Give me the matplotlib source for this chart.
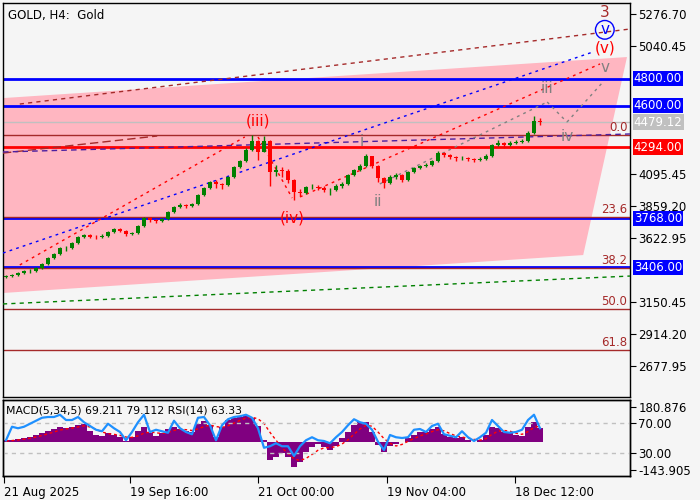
import matplotlib
matplotlib.use('Agg')
import matplotlib.pyplot as plt
import matplotlib.transforms as mtrans
import numpy as np

plt.rcParams['font.family'] = ['DejaVu Sans']

# ---- data (one bar ~ one trading day of H4 candles) ----
first_open = 3335
closes = [3342, 3350, 3367, 3376, 3381, 3401, 3431, 3475, 3505, 3549,
          3549, 3586, 3630, 3645, 3634, 3630, 3638, 3667, 3690, 3675,
          3652, 3660, 3711, 3770, 3756, 3745, 3763, 3815, 3852, 3867,
          3859, 3874, 3940, 3992, 4036, 4022, 4014, 4073, 4147, 4191,
          4273, 4340, 4260, 4340, 4110, 4125, 4118, 4051, 3965, 3955,
          4000, 4000, 3992, 3977, 3977, 4007, 4022, 4088, 4125, 4155,
          4228, 4155, 4066, 4029, 4073, 4088, 4051, 4110, 4140, 4155,
          4162, 4191, 4250, 4236, 4221, 4210, 4213, 4206, 4199, 4206,
          4228, 4309, 4324, 4309, 4324, 4332, 4339, 4398, 4487, 4479]
highs = [3352, 3360, 3375, 3386, 3392, 3408, 3440, 3482, 3515, 3556,
         3565, 3594, 3640, 3655, 3652, 3645, 3650, 3675, 3698, 3700,
         3682, 3670, 3720, 3780, 3778, 3765, 3772, 3825, 3862, 3880,
         3875, 3885, 3950, 4000, 4045, 4050, 4030, 4082, 4155, 4200,
         4285, 4381, 4350, 4378, 4350, 4165, 4150, 4130, 4060, 3985,
         4010, 4020, 4015, 4005, 3995, 4018, 4035, 4098, 4135, 4168,
         4245, 4232, 4165, 4075, 4085, 4105, 4095, 4120, 4150, 4165,
         4175, 4200, 4262, 4258, 4245, 4232, 4225, 4222, 4215, 4218,
         4240, 4318, 4345, 4332, 4336, 4345, 4352, 4410, 4525, 4510]
lows = [3325, 3335, 3345, 3358, 3368, 3374, 3395, 3425, 3468, 3498,
        3530, 3540, 3580, 3622, 3620, 3615, 3622, 3632, 3660, 3665,
        3640, 3642, 3655, 3705, 3740, 3730, 3738, 3758, 3808, 3845,
        3845, 3850, 3868, 3932, 3985, 3995, 3985, 4005, 4065, 4140,
        4185, 4265, 4200, 4255, 4010, 4080, 4075, 4030, 3905, 3930,
        3945, 3985, 3975, 3960, 3940, 3968, 3995, 4015, 4080, 4115,
        4148, 4140, 4040, 3995, 4020, 4060, 4035, 4045, 4100, 4130,
        4145, 4155, 4185, 4222, 4205, 4195, 4198, 4192, 4185, 4190,
        4200, 4222, 4300, 4290, 4300, 4315, 4322, 4332, 4390, 4460]

macd = [10, 10, 15, 21, 26, 36, 46, 57, 67, 77,
        72, 77, 88, 93, 57, 36, 31, 46, 36, 26,
        5, 26, 57, 77, 46, 31, 46, 67, 77, 67,
        57, 52, 93, 108, 88, 26, 77, 113, 124, 129,
        134, 124, 82, 10, -93, -77, -57, -77, -129, -103,
        -52, -26, -10, -26, -41, -21, 21, 52, 88, 103,
        103, 52, -15, -52, -21, -10, 2, 21, 36, 52,
        52, 67, 77, 41, 26, 21, 26, 10, 2, 10,
        36, 77, 72, 52, 46, 36, 31, 77, 103, 72]
signal = [5, 8, 11, 15, 20, 26, 34, 43, 52, 62,
          68, 72, 78, 84, 78, 66, 52, 44, 40, 35,
          26, 24, 32, 46, 52, 48, 44, 50, 60, 66,
          64, 60, 68, 80, 88, 80, 76, 84, 98, 112,
          124, 128, 120, 96, 50, 10, -30, -58, -86, -95,
          -84, -64, -42, -30, -28, -24, -10, 12, 40, 68,
          86, 82, 52, 18, -6, -20, -12, 4, 18, 32,
          42, 54, 64, 58, 44, 32, 26, 20, 14, 10,
          18, 40, 56, 60, 56, 46, 40, 54, 76, 82]
rsi = [47, 65, 63, 65, 69, 73, 77, 78, 78, 81,
       74, 74, 78, 71, 66, 61, 59, 69, 63, 58,
       47, 58, 71, 81, 58, 61, 59, 57, 73, 63,
       58, 55, 77, 78, 67, 47, 67, 75, 78, 79,
       81, 77, 63, 37, 39, 43, 39, 39, 26, 39,
       47, 51, 47, 46, 43, 51, 58, 67, 75, 71,
       69, 61, 45, 34, 54, 51, 50, 51, 61, 62,
       58, 66, 69, 55, 53, 51, 59, 51, 46, 51,
       57, 74, 66, 58, 57, 58, 61, 74, 81, 63]

date_labels = ['21 Aug 2025', '19 Sep 16:00', '21 Oct 00:00', '19 Nov 04:00', '18 Dec 12:00']
date_ticks = [-0.4, 20.7, 42, 63.5, 84.8]

# scale labels that are not hidden behind the coloured price boxes
price_ticks = [5276.70, 5040.45, 4095.45, 3859.20, 3622.95,
               3150.45, 2914.20, 2677.95]

blue_levels = [4800, 4600, 3768, 3406]
red_level = 4294
last_price = 4479.12

fib_high = 4381.7
fib_span = 2566
fib_levels = [0.0, 23.6, 38.2, 50.0, 61.8]

# pink channel polygon (bar index, price)
zone_x = [-0.5, 103.5, 96.2, -0.5]
zone_y = [4656, 4959, 3497, 3217]

# trend lines: (x0, y0, x1, y1, colour, style)
trend_lines = [
    (2.3, 4612, 104, 5166, '#a52a2a', (0, (3, 3))),
    (-0.5, 4250, 25.2, 4376, '#a52a2a', (0, (6, 3))),
    (-0.5, 4258, 104, 4391, '#4b1fa0', (0, (4, 3))),
    (-0.5, 3512, 97.8, 4996, '#0000ff', (0, (2, 3))),
    (2.3, 3424, 39.8, 4369, '#ff0000', (0, (2, 3))),
    (42, 4369, 47.7, 3918, '#ff0000', (0, (2, 3))),
    (49, 3926, 99, 4908, '#ff0000', (0, (2, 3))),
    (62.3, 4022, 90.2, 4627, '#808080', (0, (2, 3))),
    (90.2, 4627, 93.5, 4479, '#808080', (0, (2, 3))),
    (93.5, 4479, 99.5, 4775, '#808080', (0, (2, 3))),
    (-0.5, 3136, 104, 3342, '#008000', (0, (3, 3))),
]

# wave labels: (x, price, text, colour)
wave_labels = [
    (42, 4487, '(iii)', '#ff0000'),
    (47.7, 3771, '(iv)', '#ff0000'),
    (59.3, 4332, 'i', '#808080'),
    (62, 3889, 'ii', '#808080'),
    (90.2, 4730, 'iii', '#808080'),
    (93.5, 4369, 'iv', '#808080'),
    (99.8, 4885, 'v', '#808080'),
    (99.8, 5026, '(v)', '#ff0000'),
    (99.8, 5290, '3', '#a52a2a'),
]

bg = '#f5f5f5'
fig = plt.figure(figsize=(7, 5), dpi=100, facecolor=bg)
ax = fig.add_axes([3 / 700, 103 / 500, 627 / 700, 394 / 500], facecolor=bg)
ax2 = fig.add_axes([3 / 700, 24 / 500, 627 / 700, 76 / 500], facecolor=bg, sharex=ax)

n = len(closes)
x = np.arange(n)
opens = [first_open] + closes[:-1]

ax.fill(zone_x, zone_y, color='#ffb6c1', lw=0, zorder=1)

for lv in blue_levels:
    ax.axhline(lv, color='#0000ff', lw=2, zorder=2)
ax.axhline(red_level, color='#ff0000', lw=2, zorder=2)
ax.axhline(last_price, color='#c0c0c0', lw=1, zorder=2)

ytr = mtrans.blended_transform_factory(ax.transAxes, ax.transData)
for lv in fib_levels:
    p = fib_high - lv / 100 * fib_span
    ax.axhline(p, color='#a52a2a', lw=1, zorder=2)
    ax.text(0.996, p + 10, f'{lv:.1f}', transform=ytr,
            ha='right', va='bottom', color='#a52a2a', fontsize=8.5, zorder=6)

for x0, y0, x1, y1, col, ls in trend_lines:
    ax.plot([x0, x1], [y0, y1], color=col, lw=1, ls=ls, zorder=3)

# candles
for i in range(n):
    up = closes[i] >= opens[i]
    col = '#008000' if up else '#ff0000'
    ax.vlines(x[i], lows[i], highs[i], color=col, lw=1, zorder=4)
    lo, hi = min(opens[i], closes[i]), max(opens[i], closes[i])
    ax.bar(x[i], max(hi - lo, 3), bottom=lo, width=0.7, color=col, lw=0, zorder=4)

for wx, wy, txt, col in wave_labels:
    ax.text(wx, wy, txt, color=col, fontsize=11, ha='center', va='center', zorder=6)
ax.text(99.8, 5160, 'v', color='#0000ff', fontsize=11, ha='center', va='center', zorder=6,
        bbox=dict(boxstyle='circle,pad=0.12', fc='none', ec='#0000ff', lw=1))

ax.text(0.008, 0.985, 'GOLD, H4:  Gold', transform=ax.transAxes, ha='left', va='top', fontsize=8.5)

ax.set_xlim(-0.5, 104)
ax.set_ylim(2449, 5358)
ax.yaxis.tick_right()
ax.set_yticks(price_ticks)
ax.set_yticklabels([f'{t:.2f}' for t in price_ticks])
ax.tick_params(axis='y', direction='out', length=4, labelsize=8.5, pad=2)
ax.tick_params(axis='x', bottom=False, labelbottom=False)

# coloured price boxes on the right scale
boxes = [(4800, '#0000ff'), (4600, '#0000ff'), (last_price, '#c0c0c0'),
         (red_level, '#ff0000'), (3768, '#0000ff'), (3406, '#0000ff')]
for val, col in boxes:
    ax.text(1.006, val, f'{val:.2f}', transform=ytr, ha='left', va='center', color='white',
            fontsize=8.5, clip_on=False, zorder=10,
            bbox=dict(boxstyle='square,pad=0.1', fc=col, ec='none'))

# MACD + RSI panel
ax2.bar(x, macd, width=1.0, color='#800080', lw=0, zorder=2)
ax2.plot(x, signal, color='#ff0000', lw=1, ls=(0, (2, 2)), zorder=3)
ax2.set_ylim(-174.8, 217)
ax2.yaxis.tick_right()
ax2.set_yticks([180.876, -143.905])
ax2.set_yticklabels(['180.876', '-143.905'])

ax3 = ax2.twinx()
ax3.set_ylim(-0.67, 100.67)
ax3.axhline(70, color='#c0c0c0', lw=1, ls=(0, (3, 3)), zorder=1)
ax3.axhline(30, color='#c0c0c0', lw=1, ls=(0, (3, 3)), zorder=1)
ax3.plot(x, rsi, color='#1e90ff', lw=1.6, zorder=4)
ax3.set_yticks([70, 30])
ax3.set_yticklabels(['70.00', '30.00'])
ax2.yaxis.tick_right()
for a in (ax2, ax3):
    a.tick_params(axis='y', direction='out', length=4, labelsize=8.5, pad=2)
ax2.text(0.004, 0.93, 'MACD(5,34,5) 69.211 79.112 RSI(14) 63.33', transform=ax2.transAxes,
         ha='left', va='top', fontsize=7.8, zorder=6)

ax2.set_xticks(date_ticks)
ax2.set_xticklabels(date_labels, ha='left')
ax2.tick_params(axis='x', direction='out', length=5, labelsize=8.5, pad=2)

for a in (ax, ax2, ax3):
    for s in a.spines.values():
        s.set_color('black')
        s.set_linewidth(1)

fig.savefig('out.png', dpi=100, facecolor=bg)
